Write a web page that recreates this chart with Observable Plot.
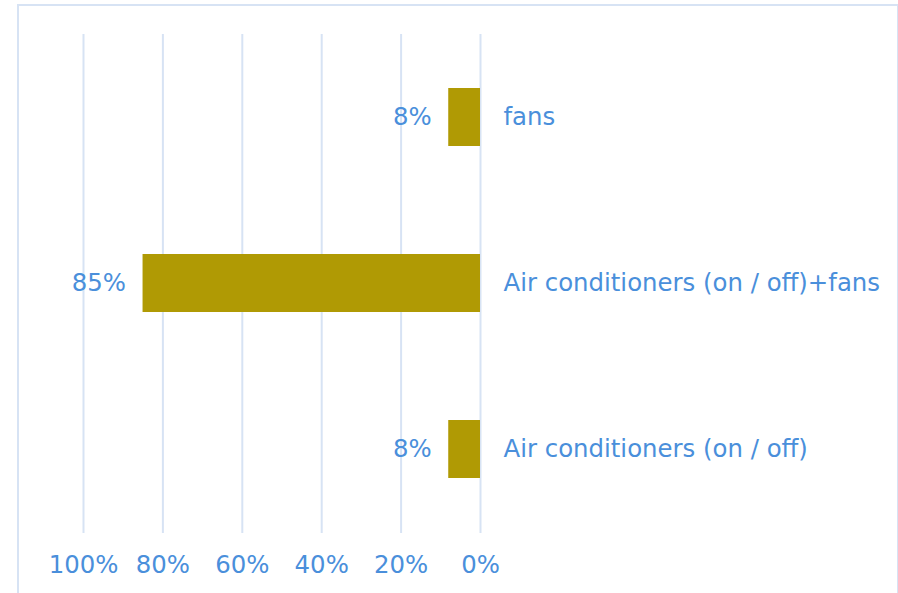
<!DOCTYPE html>
<html>
<head>
<meta charset="utf-8">
<script src="https://cdn.jsdelivr.net/npm/d3@7"></script>
<script src="https://cdn.jsdelivr.net/npm/@observablehq/plot@0.6"></script>
<style>
  html, body { margin: 0; padding: 0; background: #fff; }
  #wrap { position: relative; width: 898px; height: 593px; overflow: hidden; }
  #border { position: absolute; left: 17px; top: 4px; width: 882px; height: 600px; border: 2px solid #d7e3f4; pointer-events: none; box-sizing: border-box; }
</style>
</head>
<body>
<div id="wrap"><div id="border"></div></div>
<script>
const categories = ["fans", "Air conditioners (on / off)+fans", "Air conditioners (on / off)"];
const values = [8, 85, 8];
const tickValues = [0, 20, 40, 60, 80, 100];

const data = categories.map((c, i) => ({category: c, value: values[i]}));
const textColor = "#4a8fdb";
const barColor = "#b09a04";
const gridColor = "#d7e3f4";

const chart = Plot.plot({
  width: 898,
  height: 593,
  marginLeft: 83,
  marginRight: 418,
  marginTop: 34,
  marginBottom: 60,
  style: {fontFamily: "DejaVu Sans, Verdana, sans-serif", fontSize: "24.4px", color: textColor, background: "transparent"},
  x: {domain: [0, 100], reverse: true, ticks: tickValues},
  y: {domain: categories, paddingInner: 0.65, paddingOuter: 0.325},
  marks: [
    Plot.ruleX(tickValues, {stroke: gridColor, strokeWidth: 2, strokeOpacity: 1}),
    Plot.barX(data, {x: "value", y: "category", fill: barColor}),
    Plot.text(data, {x: "value", y: "category", text: d => d.value + "%", textAnchor: "end", dx: -17, fill: textColor, fontSize: 24.4}),
    Plot.text(data, {x: 0, y: "category", text: "category", textAnchor: "start", dx: 23, fill: textColor, fontSize: 24.4}),
    Plot.axisX(tickValues, {tickSize: 0, tickPadding: 22, tickFormat: d => d + "%", fill: textColor, fontSize: 24.4, label: null}),
    Plot.axisY({ticks: [], label: null})
  ]
});
document.getElementById("wrap").prepend(chart);
</script>
</body>
</html>
